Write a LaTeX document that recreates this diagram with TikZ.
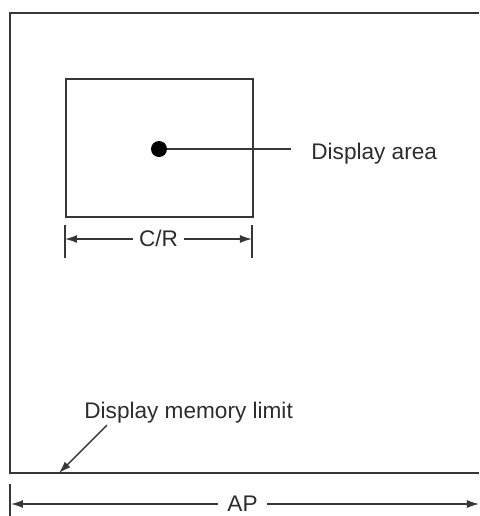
\documentclass[tikz,border=0pt]{standalone}
\usepackage{fontspec}
\setmainfont{Liberation Sans}
\usetikzlibrary{arrows.meta}
\definecolor{linegray}{RGB}{55,55,55}
\definecolor{textgray}{RGB}{45,45,45}

\begin{document}
\begin{tikzpicture}[x=0.5pt, y=-0.5pt,
  lbl/.style={text=textgray, font=\fontsize{11.3}{13}\selectfont, inner sep=0pt},
  dimarrow/.style={draw=linegray, line width=0.7pt, -{Latex[length=6pt,width=4pt]}},
  dimtick/.style={draw=linegray, line width=0.75pt}]
  \useasboundingbox (0,0) rectangle (479,516);

  % Display memory (runs off the right edge)
  \draw[linegray, line width=1pt] (479,13) -- (10,13) -- (10,473) -- (479,473);

  % Display area window
  \node[draw=linegray, line width=0.9pt, minimum width=93.5pt, minimum height=69pt,
        inner sep=0pt, anchor=north west] (window) at (65,78) {};
  \node[circle, fill=black, minimum size=8pt, inner sep=0pt] (dot) at (159,149) {};
  \node[lbl, anchor=base west] (arealbl) at (311,159) {Display area};
  \draw[linegray, line width=0.7pt, shorten >=10pt] (dot) -- (dot -| arealbl.west);

  % C/R width
  \coordinate (crL) at (65,239);
  \coordinate (crR) at (252,239);
  \draw[dimtick] (65,225) -- (65,258);
  \draw[dimtick] (252,225) -- (252,258);
  \node[lbl, inner xsep=3pt, anchor=base] (crlbl) at (158.5,246.5) {C/R};
  \draw[dimarrow] (crL -| crlbl.west) -- (crL);
  \draw[dimarrow] (crR -| crlbl.east) -- (crR);

  % Display memory limit
  \node[lbl, anchor=base west] (memlbl) at (84,418) {Display memory limit};
  \coordinate (limit) at (59,473);
  \draw[dimarrow] ([xshift=11.5pt, yshift=-1pt]memlbl.south west) -- (limit);

  % AP width
  \coordinate (apL) at (11,504);
  \coordinate (apR) at (479,504);
  \draw[dimtick] (10,484) -- (10,516);
  \node[lbl, inner xsep=4.5pt, anchor=base] (aplbl) at (242.5,511.5) {AP};
  \draw[dimarrow] (apL -| aplbl.west) -- (apL);
  \draw[dimarrow] (apR -| aplbl.east) -- (apR);
\end{tikzpicture}
\end{document}
